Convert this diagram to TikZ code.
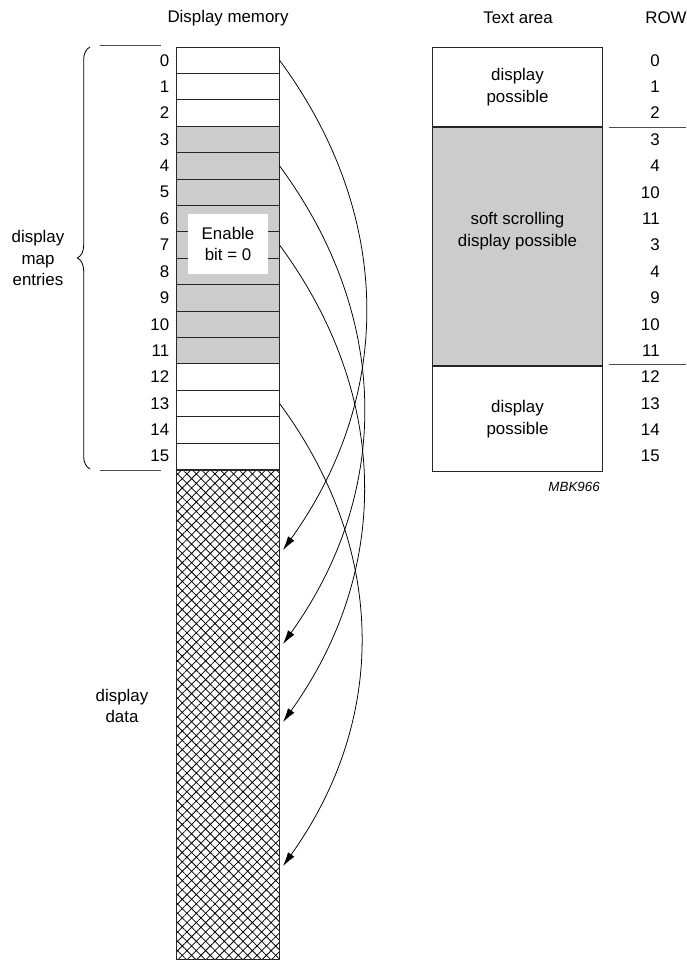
\documentclass[tikz,border=0pt]{standalone}
\usepackage{fontspec}
\setmainfont{Liberation Sans}
\usetikzlibrary{arrows.meta,positioning,decorations.pathreplacing,patterns.meta}

\tikzset{
  memrow/.style={draw=black!85,line width=0.7pt,minimum width=2.55cm,minimum height=0.66cm},
  areabox/.style={draw=black!85,line width=0.7pt,minimum width=4.225cm,align=center},
  greyed/.style={fill=black!20},
  maparrow/.style={-{Latex[length=10pt,width=5.5pt]},line width=0.55pt,bend left=36},
  rowline/.style={black!70,line width=0.6pt}
}

\begin{document}
\begin{tikzpicture}[x=0.025cm,y=-0.025cm,font=\fontsize{12}{15.5}\selectfont]
  \tikzstyle{every node}+=[inner sep=0pt]
  \useasboundingbox (0,0) rectangle (686,960);

  % headings
  \node (hmem) at (228,18) {Display memory};
  \node (harea) at (518,18) {Text area};
  \node (hrow) at (666,18) {ROW};

  % display map entries
  \foreach \i in {0,1,2,12,13,14,15}
    \node[memrow] (m\i) at (228,{60.2+26.4*\i}) {};
  \foreach \i in {3,...,11}
    \node[memrow,greyed] (m\i) at (228,{60.2+26.4*\i}) {};
  \foreach \i in {0,...,15}
    \node[left=5pt of m\i] (n\i) {\i};

  % display data
  \node[draw=black!85,line width=0.7pt,minimum width=2.55cm,minimum height=12.225cm,anchor=north,
        pattern={Hatch[angle=45,distance=4.7pt,line width=0.55pt]}] (data) at (m15.south) {};
  \node[align=center] (ldata) at (122,706) {display\\data};

  \node[fill=white,minimum width=2cm,minimum height=1.5cm,align=center] (enable) at (228,244) {Enable\\bit = 0};

  % brace
  \coordinate (bb) at (90,469);
  \coordinate (bt) at (90,47);
  \draw[decorate,decoration={brace,amplitude=9pt},line width=0.6pt] (bb) -- (bt);
  \node[align=center] (lmap) at (38,258) {display\\map\\entries};
  \draw[rowline] (100,45) -- (161,45);
  \draw[rowline] (100,470) -- (161,470);

  % pointers into display data
  \coordinate (d0) at (283,550);
  \coordinate (d4) at (283,644);
  \coordinate (d7) at (283,722);
  \coordinate (d13) at (283,866);
  \draw[maparrow] (m0.east) to (d0);
  \draw[maparrow] (m4.east) to (d4);
  \draw[maparrow] (m7.east) to (d7);
  \draw[maparrow] (m13.east) to (d13);

  % text area
  \node[areabox,minimum height=1.98cm,anchor=north] (ta1) at (517.5,47) {display\\possible};
  \node[areabox,greyed,minimum height=5.94cm,anchor=north] (ta2) at (ta1.south) {};
  \node[areabox,minimum height=2.64cm,anchor=north] (ta3) at (ta2.south) {display\\possible};
  \node[align=center] (soft) at (517.5,231) {soft scrolling\\display possible};

  \foreach \r [count=\i from 0] in {0,1,2,3,4,10,11,3,4,9,10,11,12,13,14,15}
    \node[anchor=east] (r\i) at (660,{60.2+26.4*\i}) {\r};
  \draw[rowline] (609,127) -- (686,127);
  \draw[rowline] (609,364) -- (686,364);

  \node[anchor=east,font=\fontsize{9.5}{11}\selectfont\itshape] (code) at (600,487) {MBK966};
\end{tikzpicture}
\end{document}
